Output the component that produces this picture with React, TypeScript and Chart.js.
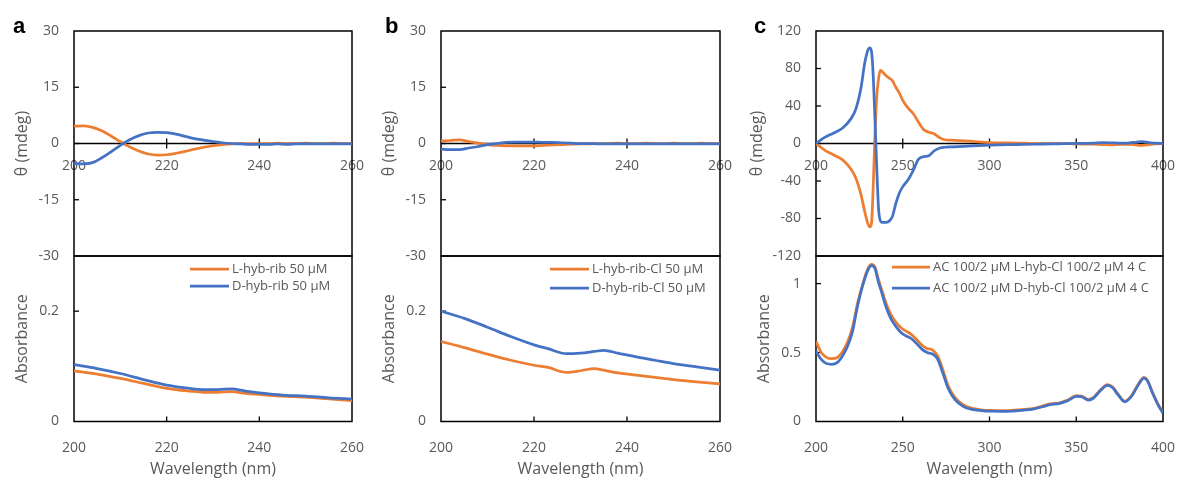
import React, { useEffect, useRef } from 'react';
import { Chart, registerables } from 'chart.js';

Chart.register(...registerables);

const ORANGE = '#ED7D31';
const BLUE = '#4472C4';
const GRAY = '#595959';
const FONT = "'Open Sans', sans-serif";

// ---------- Panel a ----------
const cdWaveA = [200, 202, 204, 206, 208, 210, 212, 214, 216, 218, 220, 222, 224, 226, 228, 230, 232, 234, 236, 238, 240, 242, 244, 246, 248, 250, 252, 254, 256, 258, 260];
const cdA_L = [4.6, 4.7, 4.3, 3.4, 2.0, 0.5, -0.9, -2.0, -2.8, -3.1, -3.0, -2.6, -2.1, -1.5, -1.0, -0.6, -0.3, -0.1, 0.0, -0.1, 0.0, 0.0, 0.1, 0.0, 0.0, 0.1, 0.0, 0.0, 0.1, 0.0, 0.0];
const cdA_D = [-5.3, -5.4, -5.1, -3.8, -2.2, -0.5, 1.0, 2.1, 2.8, 3.0, 2.9, 2.5, 1.9, 1.3, 0.9, 0.5, 0.2, 0.0, -0.1, -0.2, -0.2, -0.2, -0.1, -0.2, -0.1, -0.1, -0.1, -0.1, -0.1, -0.1, -0.1];
const absWaveA = [200, 205, 210, 215, 220, 225, 228, 231, 234, 237, 240, 245, 250, 255, 260];
const absA_L = [0.092, 0.086, 0.078, 0.069, 0.060, 0.055, 0.053, 0.053, 0.054, 0.051, 0.049, 0.046, 0.044, 0.041, 0.038];
const absA_D = [0.103, 0.096, 0.087, 0.076, 0.066, 0.060, 0.058, 0.058, 0.059, 0.055, 0.052, 0.048, 0.046, 0.043, 0.041];
const legendA = ['L-hyb-rib 50 µM', 'D-hyb-rib 50 µM'];

// ---------- Panel b ----------
const cdWaveB = [200, 202, 204, 206, 208, 210, 212, 214, 216, 218, 220, 222, 224, 226, 228, 230, 232, 234, 236, 238, 240, 242, 244, 246, 248, 250, 252, 254, 256, 258, 260];
const cdB_L = [0.7, 0.8, 1.0, 0.5, 0.1, -0.3, -0.5, -0.6, -0.6, -0.6, -0.6, -0.5, -0.4, -0.3, -0.2, -0.1, -0.1, 0.0, 0.0, 0.1, 0.0, 0.0, 0.1, 0.0, 0.0, 0.1, 0.0, 0.0, 0.1, 0.0, 0.0];
const cdB_D = [-1.5, -1.6, -1.6, -1.2, -0.8, -0.3, 0.0, 0.3, 0.4, 0.4, 0.4, 0.3, 0.3, 0.2, 0.1, 0.0, 0.0, -0.1, -0.1, -0.1, -0.1, -0.1, -0.1, -0.1, -0.1, -0.1, -0.1, -0.1, -0.1, -0.1, -0.1];
const absWaveB = [200, 205, 210, 215, 220, 223, 227, 230, 233, 235, 238, 242, 246, 250, 255, 260];
const absB_L = [0.145, 0.134, 0.122, 0.111, 0.102, 0.098, 0.089, 0.092, 0.096, 0.093, 0.088, 0.084, 0.080, 0.076, 0.072, 0.068];
const absB_D = [0.200, 0.187, 0.171, 0.154, 0.139, 0.132, 0.123, 0.124, 0.127, 0.129, 0.124, 0.117, 0.111, 0.105, 0.099, 0.093];
const legendB = ['L-hyb-rib-Cl 50 µM', 'D-hyb-rib-Cl 50 µM'];

// ---------- Panel c ----------
const cdWaveC = [200, 205, 210, 215, 220, 223, 226, 228, 230, 231, 232, 233, 234, 235, 236, 237, 238, 240, 242, 244, 246, 248, 250, 253, 256, 259, 262, 265, 268, 271, 274, 278, 285, 290, 300, 310, 320, 330, 340, 350, 360, 365, 370, 375, 380, 385, 388, 392, 396, 400];
const cdC_L = [0, -7, -12, -17, -27, -37, -55, -72, -86, -89, -85, -45, 10, 50, 68, 78, 77, 73, 70, 67, 60, 54, 46, 38, 32, 23, 15, 12, 10.5, 6.5, 4, 3.5, 2.8, 2.2, 1, 0.6, 0.3, 0, -0.2, -0.3, -0.8, -1.2, -1.5, -1, -0.8, -1.8, -2, -1.2, -0.5, 0];
const cdC_D = [0, 6.5, 11, 16, 26, 37, 60, 85, 100, 102, 98, 72, 25, -25, -68, -82, -84, -84, -83, -78, -64, -53, -46, -39, -29, -17, -14, -13, -8, -5, -4, -3.5, -3, -2.5, -1.8, -1.3, -1, -0.6, -0.3, 0, 0.5, 1, 0.8, 0.3, 0.5, 1.5, 2, 1, 0.3, 0];
const absWaveC = [200, 203, 206, 209, 212, 215, 218, 221, 224, 227, 230, 232, 234, 236, 238, 240, 243, 246, 249, 252, 255, 258, 261, 264, 267, 270, 273, 276, 280, 285, 290, 295, 300, 310, 320, 325, 330, 335, 340, 345, 350, 353, 357, 360, 364, 368, 371, 374, 378, 382, 386, 389, 391, 394, 397, 400];
const absC_L = [0.58, 0.50, 0.465, 0.455, 0.462, 0.50, 0.57, 0.68, 0.86, 1.00, 1.11, 1.14, 1.12, 1.03, 0.95, 0.87, 0.78, 0.72, 0.68, 0.655, 0.63, 0.595, 0.555, 0.53, 0.52, 0.48, 0.38, 0.265, 0.175, 0.12, 0.095, 0.085, 0.08, 0.078, 0.088, 0.093, 0.11, 0.128, 0.134, 0.155, 0.188, 0.185, 0.16, 0.175, 0.23, 0.268, 0.25, 0.2, 0.148, 0.19, 0.276, 0.32, 0.3, 0.21, 0.13, 0.065];
const absC_D = [0.51, 0.45, 0.42, 0.415, 0.425, 0.47, 0.54, 0.65, 0.84, 0.99, 1.10, 1.13, 1.11, 1.01, 0.93, 0.845, 0.75, 0.69, 0.645, 0.62, 0.60, 0.565, 0.525, 0.50, 0.49, 0.455, 0.355, 0.245, 0.16, 0.108, 0.088, 0.08, 0.075, 0.074, 0.083, 0.09, 0.105, 0.122, 0.13, 0.15, 0.182, 0.18, 0.155, 0.17, 0.225, 0.262, 0.245, 0.195, 0.143, 0.185, 0.27, 0.315, 0.295, 0.205, 0.125, 0.06];
const legendC = ['AC 100/2 µM L-hyb-Cl 100/2 µM 4 C', 'AC 100/2 µM D-hyb-Cl 100/2 µM 4 C'];

const panelLabels = ['a', 'b', 'c'];
const cdTitle = 'θ (mdeg)';
const absTitle = 'Absorbance';
const xTitle = 'Wavelength (nm)';

const toPoints = (xs: number[], ys: number[]) => xs.map((x, i) => ({ x, y: ys[i] }));
const fmtTick = (v: any) => `${+(+v).toFixed(3)}`;

function drawFrame(chart: any, kind: string) {
  const { ctx, chartArea: a, scales } = chart;
  const xs = scales.x;
  const ys = scales.y;
  const line = (x1: number, y1: number, x2: number, y2: number) => {
    ctx.beginPath();
    ctx.moveTo(x1, y1);
    ctx.lineTo(x2, y2);
    ctx.stroke();
  };
  ctx.save();
  ctx.strokeStyle = '#000000';
  ctx.lineWidth = 1.5;
  ctx.beginPath();
  ctx.rect(a.left, a.top, a.right - a.left, a.bottom - a.top);
  ctx.stroke();
  ctx.lineWidth = 1.3;
  ys.ticks.forEach((t: any) => {
    if (t.value <= ys.min || t.value >= ys.max) return;
    const py = ys.getPixelForValue(t.value);
    line(a.left, py, a.left + 5, py);
  });
  if (kind === 'cd') {
    const y0 = ys.getPixelForValue(0);
    line(a.left, y0, a.right, y0);
    xs.ticks.forEach((t: any) => {
      if (t.value <= xs.min || t.value >= xs.max) return;
      const px = xs.getPixelForValue(t.value);
      line(px, y0 - 5, px, y0 + 5);
    });
  } else {
    xs.ticks.forEach((t: any) => {
      if (t.value <= xs.min || t.value >= xs.max) return;
      const px = xs.getPixelForValue(t.value);
      line(px, a.bottom, px, a.bottom - 5);
    });
  }
  ctx.restore();
}

const framePlugin = {
  id: 'excelFrame',
  beforeDatasetsDraw(chart: any) {
    const opts = chart.options.plugins.excelFrame;
    drawFrame(chart, opts.kind);
    chart.$frameDone = true;
  },
  afterDatasetsDraw(chart: any) {
    if (chart.$frameDone) return;
    const opts = chart.options.plugins.excelFrame;
    drawFrame(chart, opts.kind);
  },
  afterDraw(chart: any) {
    chart.$frameDone = false;
    const opts = chart.options.plugins.excelFrame;
    const { ctx } = chart;
    ctx.save();
    if (opts.legend) {
      const L = opts.legend;
      chart.data.datasets.forEach((d: any, i: number) => {
        const y = L.rows[i];
        ctx.strokeStyle = d.borderColor;
        ctx.lineWidth = 2.75;
        ctx.beginPath();
        ctx.moveTo(L.x1, y);
        ctx.lineTo(L.x2, y);
        ctx.stroke();
        ctx.fillStyle = GRAY;
        ctx.font = `13px ${FONT}`;
        ctx.textBaseline = 'middle';
        ctx.textAlign = 'left';
        ctx.fillText(d.label, L.tx, y);
      });
    }
    if (opts.panelLabel) {
      const P = opts.panelLabel;
      ctx.fillStyle = '#000';
      ctx.font = `bold 22px 'Liberation Sans', Arial, sans-serif`;
      ctx.textBaseline = 'alphabetic';
      ctx.textAlign = 'left';
      ctx.fillText(P.text, P.x, P.y);
    }
    ctx.restore();
  },
};

type Series = { label: string; color: string; xs: number[]; ys: number[]; order: number };
type PanelCfg = {
  kind: 'cd' | 'abs';
  colLeft: number;
  colWidth: number;
  canvasTop: number;
  canvasHeight: number;
  area: { l: number; t: number; r: number; b: number };
  xMin: number; xMax: number; xStep: number;
  yMin: number; yMax: number; yStep: number;
  yTitle: string;
  yTitleX: number;
  series: Series[];
  legend?: { x1: number; x2: number; tx: number; rows: number[] };
  panelLabel?: { text: string; x: number; y: number };
};

function buildConfig(p: PanelCfg): any {
  const isCd = p.kind === 'cd';
  const localLeft = p.area.l - p.colLeft;
  const padTop = p.area.t - p.canvasTop;
  const padRight = p.colLeft + p.colWidth - p.area.r;
  const canvasBottom = p.canvasTop + p.canvasHeight;
  const lineH = 16 * 1.2;
  const tickFont = { family: FONT, size: 14 };
  return {
    type: 'line',
    data: {
      datasets: p.series.map((s) => ({
        label: s.label,
        data: toPoints(s.xs, s.ys),
        borderColor: s.color,
        backgroundColor: s.color,
        borderWidth: 2.75,
        pointRadius: 0,
        cubicInterpolationMode: 'monotone',
        fill: false,
        order: s.order,
      })),
    },
    options: {
      responsive: false,
      animation: false,
      events: [],
      layout: {
        padding: { left: 0, top: padTop, right: padRight, bottom: isCd ? canvasBottom - p.area.b : 0 },
      },
      plugins: {
        legend: { display: false },
        tooltip: { enabled: false },
        excelFrame: {
          kind: p.kind,
          legend: p.legend
            ? {
                x1: p.legend.x1 - p.colLeft,
                x2: p.legend.x2 - p.colLeft,
                tx: p.legend.tx - p.colLeft,
                rows: p.legend.rows.map((r) => r - p.canvasTop),
              }
            : null,
          panelLabel: p.panelLabel
            ? { text: p.panelLabel.text, x: p.panelLabel.x - p.colLeft, y: p.panelLabel.y - p.canvasTop }
            : null,
        },
      },
      scales: {
        x: {
          type: 'linear',
          min: p.xMin,
          max: p.xMax,
          position: isCd ? { y: 0 } : 'bottom',
          ticks: {
            stepSize: p.xStep,
            autoSkip: false,
            maxRotation: 0,
            includeBounds: false,
            font: tickFont,
            color: GRAY,
            padding: isCd ? 14 : 18,
            callback: fmtTick,
          },
          grid: { display: false, drawTicks: false },
          border: { display: false },
          title: isCd
            ? { display: false }
            : { display: true, text: xTitle, font: { family: FONT, size: 16 }, color: GRAY, padding: { top: 0, bottom: 0 } },
          afterFit: (s: any) => {
            if (!isCd) s.height = canvasBottom - p.area.b;
            s.paddingLeft = 0;
            s.paddingRight = 0;
            s.paddingTop = 0;
            s.paddingBottom = 0;
          },
        },
        y: {
          type: 'linear',
          min: p.yMin,
          max: p.yMax,
          position: 'left',
          ticks: {
            stepSize: p.yStep,
            autoSkip: false,
            includeBounds: false,
            font: tickFont,
            color: GRAY,
            padding: 15,
            callback: fmtTick,
          },
          grid: { display: false, drawTicks: false },
          border: { display: false },
          title: {
            display: true,
            text: p.yTitle,
            font: { family: FONT, size: 16 },
            color: GRAY,
            padding: { top: p.yTitleX - p.colLeft - lineH / 2, bottom: 0 },
          },
          afterFit: (s: any) => {
            s.width = localLeft;
            s.paddingTop = 0;
            s.paddingBottom = 0;
            s.paddingLeft = 0;
            s.paddingRight = 0;
          },
        },
      },
    },
    plugins: [framePlugin],
  };
}

function ChartBox({ cfg }: { cfg: PanelCfg }) {
  const ref = useRef<HTMLCanvasElement>(null);
  useEffect(() => {
    const chart = new Chart(ref.current as HTMLCanvasElement, buildConfig(cfg));
    return () => chart.destroy();
  }, []);
  return (
    <canvas
      ref={ref}
      width={cfg.colWidth}
      height={cfg.canvasHeight}
      style={{ position: 'absolute', left: cfg.colLeft, top: cfg.canvasTop, width: cfg.colWidth, height: cfg.canvasHeight }}
    />
  );
}

const TOP_T = 31;
const MID = 256;
const BOT_B = 421.5;

const panels: PanelCfg[] = [
  {
    kind: 'cd', colLeft: 0, colWidth: 370, canvasTop: 0, canvasHeight: 266,
    area: { l: 74, t: TOP_T, r: 352, b: MID },
    xMin: 200, xMax: 260, xStep: 20, yMin: -30, yMax: 30, yStep: 15,
    yTitle: cdTitle, yTitleX: 22.5,
    series: [
      { label: legendA[0], color: ORANGE, xs: cdWaveA, ys: cdA_L, order: 2 },
      { label: legendA[1], color: BLUE, xs: cdWaveA, ys: cdA_D, order: 1 },
    ],
    panelLabel: { text: panelLabels[0], x: 13, y: 33 },
  },
  {
    kind: 'abs', colLeft: 0, colWidth: 370, canvasTop: 248, canvasHeight: 231,
    area: { l: 74, t: MID, r: 352, b: BOT_B },
    xMin: 200, xMax: 260, xStep: 20, yMin: 0, yMax: 0.3, yStep: 0.2,
    yTitle: absTitle, yTitleX: 22.5,
    series: [
      { label: legendA[0], color: ORANGE, xs: absWaveA, ys: absA_L, order: 2 },
      { label: legendA[1], color: BLUE, xs: absWaveA, ys: absA_D, order: 1 },
    ],
    legend: { x1: 190, x2: 229, tx: 232, rows: [269, 286] },
  },
  {
    kind: 'cd', colLeft: 370, colWidth: 370, canvasTop: 0, canvasHeight: 266,
    area: { l: 441, t: TOP_T, r: 720, b: MID },
    xMin: 200, xMax: 260, xStep: 20, yMin: -30, yMax: 30, yStep: 15,
    yTitle: cdTitle, yTitleX: 389.5,
    series: [
      { label: legendB[0], color: ORANGE, xs: cdWaveB, ys: cdB_L, order: 2 },
      { label: legendB[1], color: BLUE, xs: cdWaveB, ys: cdB_D, order: 1 },
    ],
    panelLabel: { text: panelLabels[1], x: 385, y: 33 },
  },
  {
    kind: 'abs', colLeft: 370, colWidth: 370, canvasTop: 248, canvasHeight: 231,
    area: { l: 441, t: MID, r: 720, b: BOT_B },
    xMin: 200, xMax: 260, xStep: 20, yMin: 0, yMax: 0.3, yStep: 0.2,
    yTitle: absTitle, yTitleX: 389.5,
    series: [
      { label: legendB[0], color: ORANGE, xs: absWaveB, ys: absB_L, order: 2 },
      { label: legendB[1], color: BLUE, xs: absWaveB, ys: absB_D, order: 1 },
    ],
    legend: { x1: 550, x2: 589, tx: 592, rows: [269, 288] },
  },
  {
    kind: 'cd', colLeft: 740, colWidth: 437, canvasTop: 0, canvasHeight: 266,
    area: { l: 816, t: TOP_T, r: 1163, b: MID },
    xMin: 200, xMax: 400, xStep: 50, yMin: -120, yMax: 120, yStep: 40,
    yTitle: cdTitle, yTitleX: 757,
    series: [
      { label: legendC[0], color: ORANGE, xs: cdWaveC, ys: cdC_L, order: 2 },
      { label: legendC[1], color: BLUE, xs: cdWaveC, ys: cdC_D, order: 1 },
    ],
    panelLabel: { text: panelLabels[2], x: 754, y: 33 },
  },
  {
    kind: 'abs', colLeft: 740, colWidth: 437, canvasTop: 248, canvasHeight: 231,
    area: { l: 816, t: MID, r: 1163, b: BOT_B },
    xMin: 200, xMax: 400, xStep: 50, yMin: 0, yMax: 1.2, yStep: 0.5,
    yTitle: absTitle, yTitleX: 764,
    series: [
      { label: legendC[0], color: ORANGE, xs: absWaveC, ys: absC_L, order: 2 },
      { label: legendC[1], color: BLUE, xs: absWaveC, ys: absC_D, order: 1 },
    ],
    legend: { x1: 892, x2: 930, tx: 933, rows: [267, 288] },
  },
];

export default function App() {
  return (
    <div style={{ position: 'fixed', left: 0, top: 0, width: 1177, height: 479, background: '#fff', overflow: 'hidden' }}>
      {panels.map((p, i) => (
        <ChartBox key={i} cfg={p} />
      ))}
    </div>
  );
}
